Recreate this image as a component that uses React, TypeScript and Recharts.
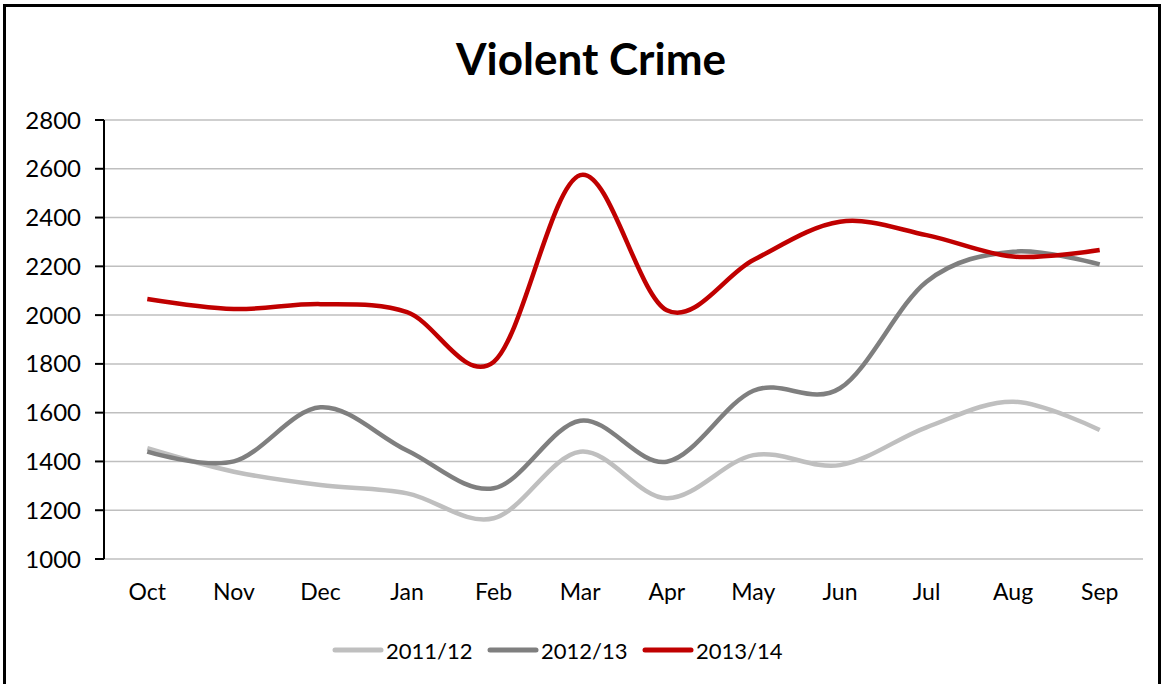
import React from "react";
import { CartesianGrid, Legend, Line, LineChart, XAxis, YAxis } from "recharts";

const months = ["Oct", "Nov", "Dec", "Jan", "Feb", "Mar", "Apr", "May", "Jun", "Jul", "Aug", "Sep"];
const crime201112 = [1454, 1358, 1303, 1269, 1167, 1440, 1249, 1426, 1385, 1540, 1645, 1529];
const crime201213 = [1440, 1400, 1622, 1445, 1290, 1567, 1399, 1690, 1700, 2137, 2260, 2208];
const crime201314 = [2066, 2025, 2045, 2012, 1808, 2574, 2020, 2226, 2383, 2328, 2240, 2267];
const yTicks = [1000, 1200, 1400, 1600, 1800, 2000, 2200, 2400, 2600, 2800];
const boundaryTicks = [0, 3, 6, 9, 12];

const seriesInfo = [
    { key: "s1112", name: "2011/12", color: "#BFBFBF" },
    { key: "s1213", name: "2012/13", color: "#7F7F7F" },
    { key: "s1314", name: "2013/14", color: "#C00000" },
];

const data = months.map((m, i) => ({
    month: m,
    s1112: crime201112[i],
    s1213: crime201213[i],
    s1314: crime201314[i],
}));

// catmull-rom style smoothing, close to what Excel does for "smoothed line"
function smoothCurve(context: any) {
    let x0 = NaN, y0 = NaN, x1 = NaN, y1 = NaN, x2 = NaN, y2 = NaN;
    let p = 0;
    let line: number = NaN;
    const k = 1 / 6;
    const seg = (x: number, y: number) =>
        context.bezierCurveTo(x1 + k * (x2 - x0), y1 + k * (y2 - y0), x2 + k * (x1 - x), y2 + k * (y1 - y), x2, y2);
    return {
        areaStart() { line = 0; },
        areaEnd() { line = NaN; },
        lineStart() { x0 = x1 = x2 = y0 = y1 = y2 = NaN; p = 0; },
        lineEnd() {
            if (p === 2) context.lineTo(x2, y2);
            else if (p === 3) seg(x1, y1);
            if (line || (line !== 0 && p === 1)) context.closePath();
            line = 1 - line;
        },
        point(x: number, y: number) {
            x = +x; y = +y;
            switch (p) {
                case 0: p = 1; line ? context.lineTo(x, y) : context.moveTo(x, y); break;
                case 1: p = 2; x1 = x; y1 = y; break;
                case 2: p = 3; seg(x, y); break;
                default: seg(x, y); break;
            }
            x0 = x1; x1 = x2; x2 = x;
            y0 = y1; y1 = y2; y2 = y;
        },
    };
}

const font = "Lato, 'Open Sans', sans-serif";

function LegendRow() {
    return (
        <div style={{ display: "flex", alignItems: "center", height: 60, paddingLeft: 332, paddingBottom: 8, boxSizing: "border-box", fontFamily: font }}>
            {seriesInfo.map((s) => (
                <div key={s.key} style={{ display: "flex", alignItems: "center", width: 155 }}>
                    <svg width={52} height={10}>
                        <line x1={3} y1={5} x2={49} y2={5} stroke={s.color} strokeWidth={5} strokeLinecap="round" />
                    </svg>
                    <span style={{ marginLeft: 2, fontSize: 22, color: "#000" }}>{s.name}</span>
                </div>
            ))}
        </div>
    );
}

export default function App() {
    return (
        <div style={{ position: "absolute", left: 0, top: 0, width: 1164, height: 684, overflow: "hidden", background: "#fff" }}>
            <div style={{ position: "absolute", left: 3, top: 4, width: 1158, height: 800, border: "3px solid #000", boxSizing: "border-box" }} />
            <div style={{ position: "absolute", left: 0, top: 36, width: 1182, textAlign: "center", fontFamily: font, fontWeight: 700, fontSize: 44, lineHeight: "44px", color: "#000" }}>
                Violent Crime
            </div>
            <div style={{ position: "absolute", left: 0, top: 0 }}>
                <LineChart width={1164} height={684} data={data} margin={{ top: 120, right: 21, bottom: 0, left: 0 }}>
                    <CartesianGrid vertical={false} stroke="#BFBFBF" strokeWidth={1.5} />
                    <XAxis
                        xAxisId="bounds"
                        type="number"
                        domain={[0, 12]}
                        ticks={boundaryTicks}
                        allowDataOverflow
                        tick={false}
                        tickSize={9}
                        height={0}
                        axisLine={{ stroke: "#000", strokeWidth: 2 }}
                        tickLine={{ stroke: "#000", strokeWidth: 2 }}
                    />
                    <XAxis
                        dataKey="month"
                        interval={0}
                        padding={{ left: 43.3, right: 43.3 }}
                        axisLine={false}
                        tickLine={false}
                        tickSize={0}
                        tickMargin={25}
                        height={65}
                        tick={{ fontSize: 23, fill: "#000", fontFamily: font }}
                    />
                    <YAxis
                        domain={[1000, 2800]}
                        ticks={yTicks}
                        width={104}
                        tickSize={9}
                        tickMargin={14}
                        axisLine={{ stroke: "#000", strokeWidth: 2 }}
                        tickLine={{ stroke: "#000", strokeWidth: 2 }}
                        tick={{ fontSize: 24, fill: "#000", fontFamily: font }}
                    />
                    <Legend verticalAlign="bottom" wrapperStyle={{ left: 0, width: 1164 }} content={() => <LegendRow />} />
                    {seriesInfo.map((s) => (
                        <Line
                            key={s.key}
                            dataKey={s.key}
                            name={s.name}
                            type={smoothCurve as any}
                            stroke={s.color}
                            strokeWidth={4.5}
                            dot={false}
                            activeDot={false}
                            isAnimationActive={false}
                        />
                    ))}
                </LineChart>
            </div>
        </div>
    );
}
